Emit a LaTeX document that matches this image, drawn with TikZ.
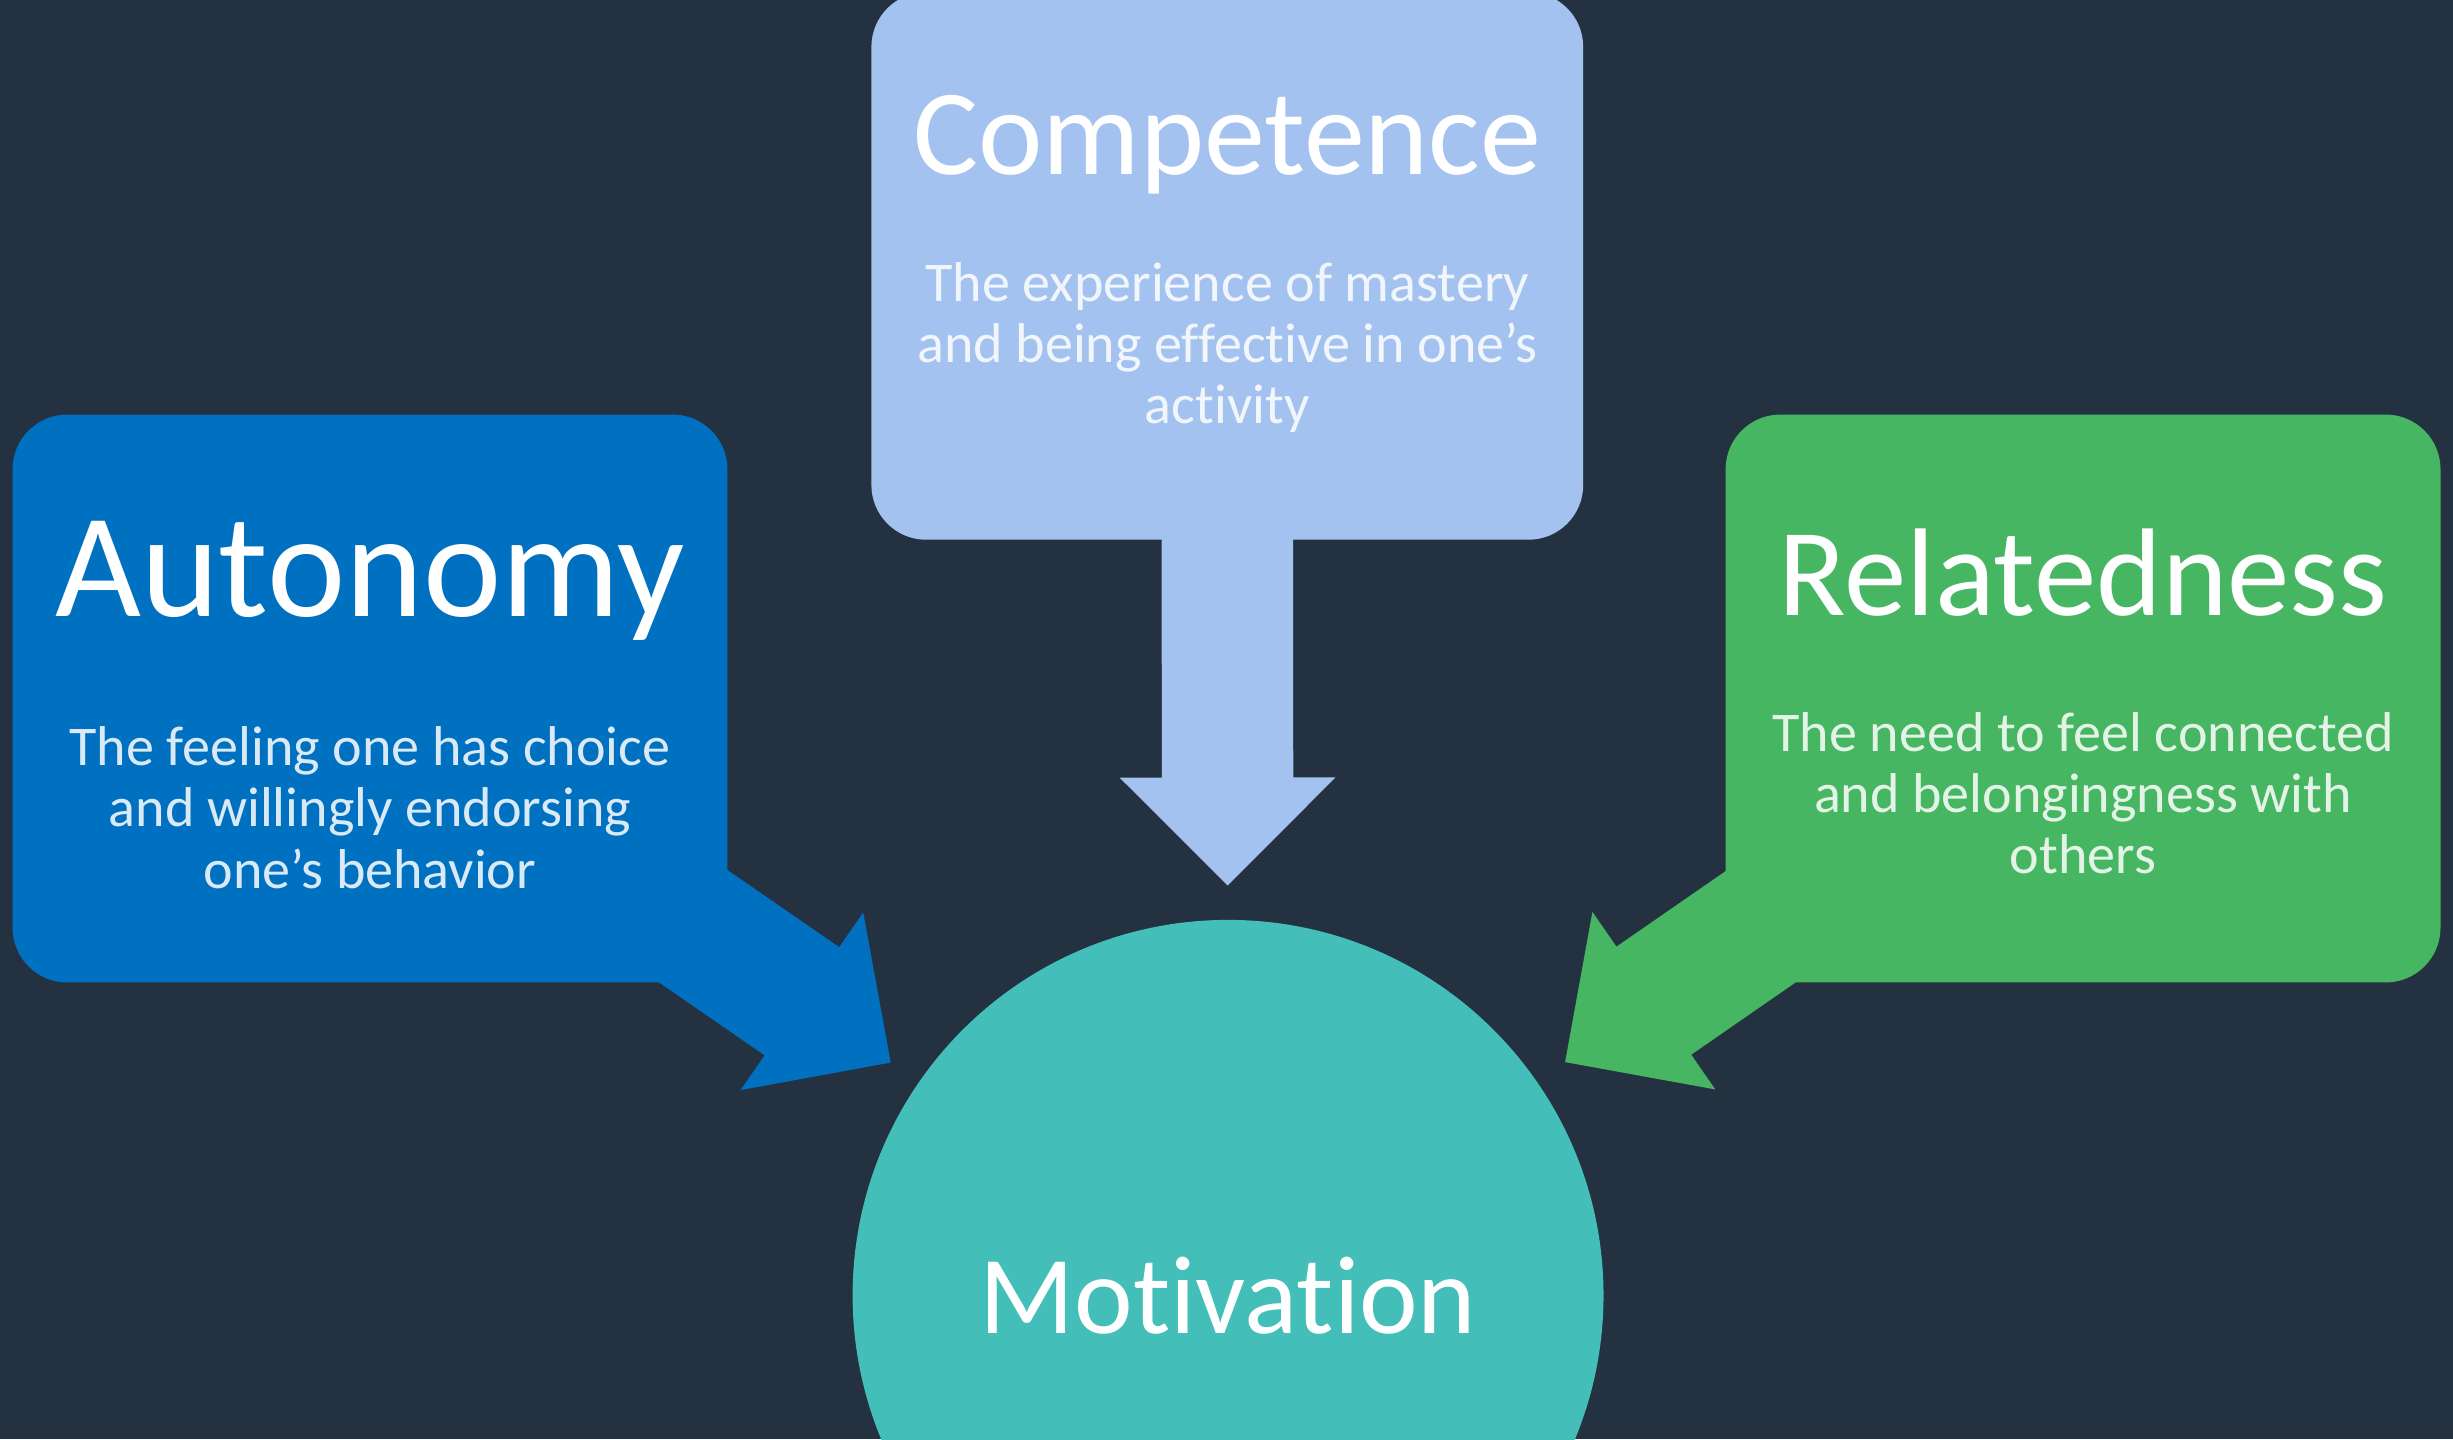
\documentclass[tikz,border=0pt]{standalone}
\usepackage{fontspec}
\setmainfont{Carlito}[Ligatures=NoCommon]
\usetikzlibrary{positioning,calc}
\definecolor{bgnavy}{HTML}{243140}
\definecolor{compblue}{HTML}{A4C2F0}
\definecolor{autblue}{HTML}{0070C0}
\definecolor{relgreen}{HTML}{47B663}
\definecolor{motteal}{HTML}{43BEB8}
\newcommand{\shaftw}{0.42cm}
\newcommand{\headw}{0.69cm}
\newcommand{\headl}{0.69cm}
% fat block arrow: colour, start, tip
\newcommand{\blockarrow}[3]{%
  \coordinate (h) at ($(#3)!\headl!(#2)$);
  \fill[#1] ($(#2)!\shaftw!90:(#3)$) -- ($(h)!\shaftw!90:(#3)$) -- ($(h)!\headw!90:(#3)$) -- (#3)
    -- ($(h)!\headw!-90:(#3)$) -- ($(h)!\shaftw!-90:(#3)$) -- ($(#2)!\shaftw!-90:(#3)$) -- cycle;
}

\begin{document}
\begin{tikzpicture}[
    box/.style={rounded corners=0.35cm, minimum width=4.57cm, minimum height=3.63cm, inner sep=0pt},
    title/.style={text=white, anchor=base, inner sep=0pt},
    blurb/.style={text=white, text opacity=0.85, align=center, inner sep=0pt,
                  font=\fontsize{10.2}{11.1}\selectfont}
  ]
  \useasboundingbox (0,0) rectangle (15.68,9.20);
  \fill[bgnavy] (0,0) rectangle (15.68,9.20);
  \clip (0,0) rectangle (15.68,9.20);

  % the three needs and the centre
  \node[box, fill=autblue] (aut) at (2.365,4.735) {};
  \node[box, fill=relgreen] (rel) at (13.315,4.735) {};
  \node[box, fill=compblue, minimum width=4.55cm, minimum height=3.5cm] (comp) at (7.845,7.50) {};
  \node[circle, fill=motteal, minimum size=4.8cm, inner sep=0pt, text=white,
        font=\fontsize{20.2}{22}\selectfont] (mot) at (7.85,0.92) {Motivation};

  % arrows into the circle
  \coordinate (aut start) at ($(aut.south east)+(-0.26,0.39)$);
  \coordinate (rel start) at ($(rel.south west)+(0.27,0.39)$);
  \coordinate (comp start) at ($(comp.south)+(0,0.15)$);
  \coordinate (aut tip) at ($(mot.center)!2.62cm!(aut start)$);
  \coordinate (rel tip) at ($(mot.center)!2.62cm!(rel start)$);
  \coordinate (comp tip) at ($(mot.center)!2.62cm!(comp start)$);
  \blockarrow{autblue}{aut start}{aut tip}
  \blockarrow{relgreen}{rel start}{rel tip}
  \blockarrow{compblue}{comp start}{comp tip}

  % labels
  \node[title, font=\fontsize{27}{30}\selectfont] (aut title) at ($(aut.north)+(0,-1.30)$) {Autonomy};
  \node[title, font=\fontsize{22.7}{26}\selectfont] (rel title) at ($(rel.north)+(0,-1.29)$) {Relatedness};
  \node[title, font=\fontsize{22.2}{26}\selectfont] (comp title) at ($(comp.north)+(0,-1.17)$) {Competence};
  \node[blurb] (aut text) at ($(aut.north)+(0,-2.52)$) {The feeling one has choice\\and willingly endorsing\\one’s behavior};
  \node[blurb] (rel text) at ($(rel.north)+(0,-2.425)$) {The need to feel connected\\and belongingness with\\others};
  \node[blurb] (comp text) at ($(comp.north)+(0,-2.28)$) {The experience of mastery\\and being effective in one’s\\activity};
\end{tikzpicture}
\end{document}
